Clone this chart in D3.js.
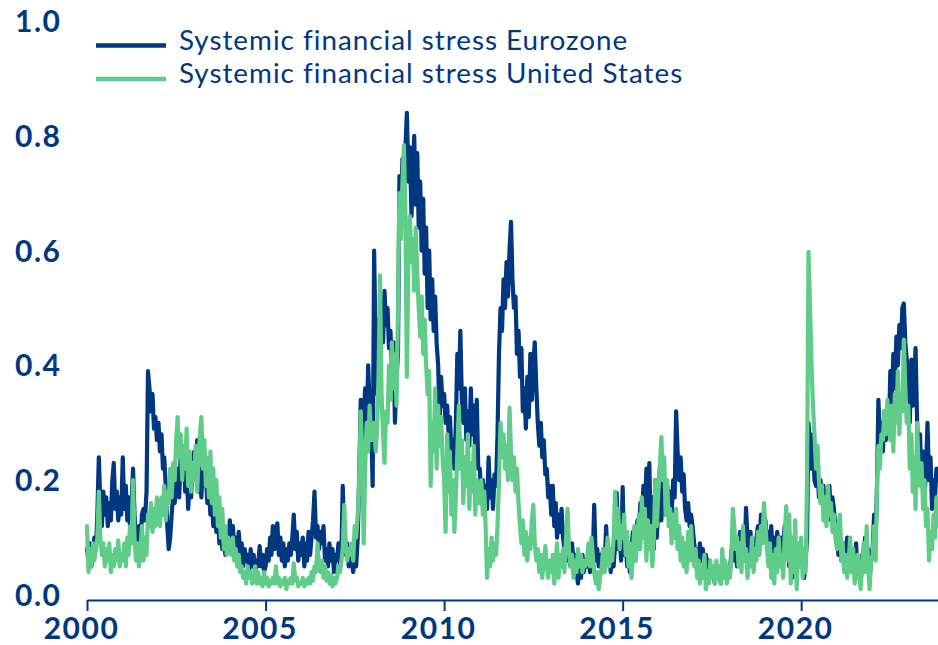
<!DOCTYPE html>
<html>
<head>
<meta charset="utf-8">
<script src="https://cdn.jsdelivr.net/npm/d3@7"></script>
<style>
  body { margin: 0; background: #fff; }
  svg { display: block; font-family: Lato, "Open Sans", sans-serif; }
</style>
</head>
<body>
<svg id="chart" width="938" height="645"></svg>
<script>
// Series labels, colours and axis ticks
const seriesNames = ["Systemic financial stress Eurozone", "Systemic financial stress United States"];
const seriesColors = ["#003781", "#5fcd89"];
const yTicks = [0, 0.2, 0.4, 0.6, 0.8, 1.0];
const xTickYears = [2000, 2005, 2010, 2015, 2020];
const firstYear = 2000;

// Composite indicator of systemic stress, two readings per month (1st and 16th), Jan 2000 onwards
const ezStress = [
  // 2000
  0.08, 0.06, 0.09, 0.05, 0.07, 0.10, 0.08, 0.14, 0.24, 0.16, 0.12, 0.18, 0.14, 0.17, 0.12, 0.16, 0.13, 0.20, 0.23, 0.15, 0.18, 0.13, 0.17, 0.14,
  // 2001
  0.24, 0.15, 0.19, 0.13, 0.17, 0.12, 0.16, 0.22, 0.14, 0.10, 0.08, 0.12, 0.09, 0.14, 0.15, 0.13, 0.18, 0.39, 0.36, 0.32, 0.35, 0.29, 0.31, 0.27,
  // 2002
  0.30, 0.25, 0.28, 0.22, 0.24, 0.19, 0.12, 0.08, 0.10, 0.14, 0.18, 0.16, 0.20, 0.22, 0.17, 0.24, 0.20, 0.26, 0.18, 0.22, 0.15, 0.20, 0.17, 0.23,
  // 2003
  0.25, 0.20, 0.27, 0.18, 0.22, 0.17, 0.24, 0.19, 0.21, 0.16, 0.19, 0.14, 0.17, 0.12, 0.15, 0.11, 0.14, 0.09, 0.12, 0.08, 0.10, 0.07, 0.11, 0.08,
  // 2004
  0.13, 0.09, 0.12, 0.08, 0.10, 0.06, 0.11, 0.07, 0.09, 0.05, 0.08, 0.06, 0.07, 0.04, 0.08, 0.05, 0.07, 0.04, 0.06, 0.05, 0.085, 0.05, 0.07, 0.04,
  // 2005
  0.05, 0.08, 0.06, 0.10, 0.07, 0.12, 0.08, 0.11, 0.125, 0.07, 0.10, 0.06, 0.09, 0.05, 0.08, 0.06, 0.09, 0.07, 0.10, 0.14, 0.08, 0.11, 0.06, 0.09,
  // 2006
  0.07, 0.10, 0.05, 0.09, 0.06, 0.11, 0.07, 0.10, 0.13, 0.18, 0.10, 0.12, 0.08, 0.11, 0.09, 0.12, 0.06, 0.08, 0.05, 0.09, 0.06, 0.08, 0.04, 0.07,
  // 2007
  0.06, 0.09, 0.05, 0.08, 0.19, 0.10, 0.07, 0.09, 0.05, 0.08, 0.06, 0.04, 0.07, 0.05, 0.10, 0.20, 0.34, 0.26, 0.30, 0.36, 0.28, 0.40, 0.33, 0.30,
  // 2008
  0.19, 0.60, 0.42, 0.35, 0.48, 0.40, 0.51, 0.44, 0.53, 0.47, 0.50, 0.43, 0.46, 0.40, 0.44, 0.30, 0.38, 0.42, 0.73, 0.66, 0.76, 0.70, 0.78, 0.84,
  // 2009
  0.72, 0.78, 0.66, 0.74, 0.80, 0.68, 0.77, 0.64, 0.72, 0.60, 0.69, 0.56, 0.64, 0.50, 0.60, 0.48, 0.55, 0.46, 0.52, 0.44, 0.40, 0.30, 0.38, 0.33,
  // 2010
  0.35, 0.30, 0.33, 0.28, 0.31, 0.25, 0.27, 0.22, 0.30, 0.42, 0.36, 0.46, 0.34, 0.30, 0.36, 0.27, 0.32, 0.26, 0.36, 0.28, 0.33, 0.24, 0.34, 0.22,
  // 2011
  0.22, 0.16, 0.20, 0.14, 0.19, 0.15, 0.24, 0.17, 0.20, 0.15, 0.21, 0.19, 0.28, 0.42, 0.50, 0.46, 0.55, 0.50, 0.58, 0.52, 0.60, 0.65, 0.55, 0.50,
  // 2012
  0.52, 0.42, 0.46, 0.38, 0.43, 0.32, 0.36, 0.29, 0.38, 0.31, 0.42, 0.34, 0.40, 0.44, 0.36, 0.30, 0.26, 0.30, 0.24, 0.27, 0.21, 0.22, 0.17, 0.19,
  // 2013
  0.14, 0.19, 0.12, 0.16, 0.10, 0.14, 0.11, 0.15, 0.10, 0.08, 0.09, 0.06, 0.08, 0.05, 0.09, 0.06, 0.07, 0.04, 0.02, 0.06, 0.03, 0.07, 0.04, 0.06,
  // 2014
  0.05, 0.07, 0.04, 0.08, 0.06, 0.157, 0.06, 0.08, 0.05, 0.07, 0.06, 0.08, 0.05, 0.12, 0.06, 0.08, 0.04, 0.07, 0.05, 0.09, 0.178, 0.08, 0.11, 0.06,
  // 2015
  0.188, 0.07, 0.10, 0.05, 0.09, 0.04, 0.08, 0.11, 0.06, 0.09, 0.13, 0.10, 0.16, 0.12, 0.19, 0.14, 0.22, 0.12, 0.23, 0.10, 0.17, 0.08, 0.20, 0.10,
  // 2016
  0.15, 0.22, 0.13, 0.24, 0.16, 0.14, 0.19, 0.15, 0.18, 0.14, 0.20, 0.17, 0.32, 0.25, 0.20, 0.24, 0.18, 0.21, 0.15, 0.13, 0.16, 0.12, 0.14, 0.12,
  // 2017
  0.09, 0.07, 0.08, 0.05, 0.09, 0.06, 0.08, 0.04, 0.07, 0.05, 0.06, 0.03, 0.05, 0.04, 0.02, 0.05, 0.03, 0.04, 0.02, 0.05, 0.03, 0.04, 0.03, 0.05,
  // 2018
  0.04, 0.07, 0.10, 0.06, 0.09, 0.05, 0.08, 0.11, 0.07, 0.09, 0.06, 0.152, 0.10, 0.07, 0.11, 0.06, 0.09, 0.07, 0.10, 0.12, 0.09, 0.14, 0.10, 0.12,
  // 2019
  0.13, 0.09, 0.11, 0.08, 0.12, 0.07, 0.10, 0.06, 0.11, 0.08, 0.10, 0.06, 0.09, 0.12, 0.07, 0.10, 0.05, 0.08, 0.03, 0.07, 0.04, 0.09, 0.05, 0.08,
  // 2020
  0.05, 0.08, 0.03, 0.06, 0.10, 0.30, 0.26, 0.22, 0.28, 0.20, 0.19, 0.22, 0.17, 0.20, 0.16, 0.19, 0.15, 0.18, 0.14, 0.19, 0.13, 0.17, 0.15, 0.12,
  // 2021
  0.10, 0.07, 0.11, 0.06, 0.09, 0.05, 0.08, 0.10, 0.06, 0.08, 0.04, 0.07, 0.05, 0.09, 0.03, 0.06, 0.02, 0.07, 0.04, 0.10, 0.05, 0.08, 0.03, 0.06,
  // 2022
  0.08, 0.14, 0.10, 0.20, 0.34, 0.28, 0.30, 0.25, 0.32, 0.27, 0.30, 0.28, 0.39, 0.33, 0.42, 0.36, 0.45, 0.40, 0.47, 0.43, 0.50, 0.508, 0.44, 0.41,
  // 2023
  0.38, 0.30, 0.41, 0.33, 0.36, 0.43, 0.30, 0.24, 0.28, 0.19, 0.25, 0.17, 0.22, 0.30, 0.20, 0.24, 0.15, 0.20, 0.17, 0.22, 0.20
];

const usStress = [
  // 2000
  0.12, 0.04, 0.08, 0.05, 0.09, 0.06, 0.08, 0.10, 0.18, 0.10, 0.07, 0.09, 0.05, 0.08, 0.06, 0.09, 0.04, 0.07, 0.05, 0.08, 0.06, 0.095, 0.05, 0.07,
  // 2001
  0.06, 0.09, 0.05, 0.10, 0.07, 0.12, 0.09, 0.20, 0.10, 0.06, 0.09, 0.05, 0.08, 0.12, 0.06, 0.10, 0.07, 0.14, 0.12, 0.16, 0.11, 0.15, 0.12, 0.17,
  // 2002
  0.15, 0.12, 0.17, 0.14, 0.19, 0.13, 0.18, 0.16, 0.22, 0.17, 0.23, 0.20, 0.27, 0.31, 0.24, 0.28, 0.20, 0.26, 0.22, 0.29, 0.19, 0.25, 0.18, 0.23,
  // 2003
  0.20, 0.26, 0.18, 0.24, 0.28, 0.31, 0.22, 0.27, 0.19, 0.24, 0.17, 0.25, 0.16, 0.22, 0.14, 0.20, 0.12, 0.17, 0.10, 0.15, 0.08, 0.12, 0.07, 0.10,
  // 2004
  0.09, 0.07, 0.10, 0.06, 0.08, 0.05, 0.07, 0.04, 0.05, 0.03, 0.04, 0.02, 0.05, 0.03, 0.04, 0.02, 0.03, 0.05, 0.02, 0.04, 0.02, 0.03, 0.015, 0.04,
  // 2005
  0.02, 0.03, 0.015, 0.025, 0.02, 0.03, 0.02, 0.05, 0.02, 0.03, 0.015, 0.025, 0.02, 0.03, 0.01, 0.025, 0.02, 0.03, 0.02, 0.055, 0.025, 0.03, 0.015, 0.02,
  // 2006
  0.02, 0.03, 0.015, 0.025, 0.02, 0.03, 0.02, 0.04, 0.025, 0.05, 0.04, 0.09, 0.05, 0.04, 0.06, 0.03, 0.05, 0.025, 0.04, 0.02, 0.035, 0.015, 0.03, 0.02,
  // 2007
  0.03, 0.05, 0.04, 0.06, 0.08, 0.157, 0.09, 0.06, 0.08, 0.07, 0.09, 0.06, 0.12, 0.10, 0.14, 0.20, 0.32, 0.25, 0.09, 0.22, 0.30, 0.25, 0.33, 0.27,
  // 2008
  0.27, 0.30, 0.25, 0.29, 0.38, 0.557, 0.35, 0.28, 0.23, 0.32, 0.30, 0.40, 0.34, 0.44, 0.36, 0.42, 0.33, 0.50, 0.70, 0.62, 0.72, 0.784, 0.66, 0.38,
  // 2009
  0.60, 0.66, 0.58, 0.62, 0.53, 0.64, 0.56, 0.50, 0.45, 0.52, 0.42, 0.48, 0.40, 0.35, 0.39, 0.19, 0.30, 0.25, 0.36, 0.22, 0.33, 0.26, 0.31, 0.24,
  // 2010
  0.20, 0.11, 0.28, 0.18, 0.25, 0.14, 0.20, 0.11, 0.17, 0.25, 0.33, 0.22, 0.27, 0.16, 0.24, 0.19, 0.28, 0.15, 0.23, 0.18, 0.26, 0.14, 0.20, 0.16,
  // 2011
  0.16, 0.20, 0.14, 0.18, 0.12, 0.03, 0.08, 0.05, 0.10, 0.06, 0.09, 0.07, 0.12, 0.20, 0.30, 0.24, 0.28, 0.22, 0.26, 0.20, 0.326, 0.25, 0.20, 0.24,
  // 2012
  0.18, 0.22, 0.16, 0.12, 0.09, 0.13, 0.07, 0.11, 0.06, 0.10, 0.08, 0.13, 0.157, 0.09, 0.06, 0.08, 0.04, 0.07, 0.03, 0.06, 0.085, 0.05, 0.03, 0.06,
  // 2013
  0.04, 0.07, 0.02, 0.06, 0.09, 0.03, 0.07, 0.05, 0.08, 0.04, 0.10, 0.15, 0.08, 0.05, 0.07, 0.03, 0.06, 0.04, 0.08, 0.05, 0.07, 0.04, 0.06, 0.05,
  // 2014
  0.06, 0.09, 0.05, 0.10, 0.07, 0.04, 0.02, 0.04, 0.01, 0.03, 0.05, 0.08, 0.04, 0.07, 0.10, 0.05, 0.08, 0.06, 0.10, 0.18, 0.10, 0.15, 0.08, 0.12,
  // 2015
  0.10, 0.14, 0.07, 0.11, 0.05, 0.09, 0.03, 0.07, 0.12, 0.06, 0.10, 0.14, 0.08, 0.17, 0.10, 0.15, 0.06, 0.13, 0.08, 0.12, 0.05, 0.10, 0.20, 0.12,
  // 2016
  0.18, 0.22, 0.275, 0.20, 0.24, 0.14, 0.20, 0.12, 0.15, 0.09, 0.14, 0.10, 0.15, 0.08, 0.12, 0.06, 0.10, 0.05, 0.09, 0.04, 0.11, 0.06, 0.12, 0.07,
  // 2017
  0.05, 0.08, 0.03, 0.06, 0.02, 0.05, 0.03, 0.07, 0.01, 0.04, 0.02, 0.06, 0.03, 0.05, 0.02, 0.06, 0.03, 0.05, 0.02, 0.08, 0.03, 0.06, 0.02, 0.05,
  // 2018
  0.03, 0.06, 0.15, 0.12, 0.08, 0.10, 0.05, 0.09, 0.04, 0.12, 0.06, 0.08, 0.03, 0.07, 0.05, 0.10, 0.04, 0.08, 0.06, 0.11, 0.07, 0.12, 0.09, 0.16,
  // 2019
  0.12, 0.08, 0.05, 0.09, 0.03, 0.07, 0.02, 0.08, 0.04, 0.10, 0.05, 0.07, 0.03, 0.10, 0.155, 0.06, 0.14, 0.02, 0.10, 0.04, 0.13, 0.01, 0.09, 0.05,
  // 2020
  0.10, 0.03, 0.08, 0.04, 0.20, 0.598, 0.50, 0.40, 0.33, 0.28, 0.22, 0.26, 0.20, 0.16, 0.19, 0.13, 0.17, 0.12, 0.19, 0.14, 0.16, 0.11, 0.14, 0.10,
  // 2021
  0.08, 0.12, 0.14, 0.06, 0.09, 0.04, 0.07, 0.03, 0.06, 0.10, 0.04, 0.08, 0.02, 0.05, 0.07, 0.03, 0.01, 0.06, 0.09, 0.04, 0.12, 0.05, 0.01, 0.06,
  // 2022
  0.07, 0.12, 0.06, 0.20, 0.26, 0.22, 0.28, 0.27, 0.32, 0.28, 0.34, 0.30, 0.27, 0.33, 0.25, 0.35, 0.30, 0.39, 0.28, 0.35, 0.32, 0.445, 0.36, 0.30,
  // 2023
  0.33, 0.22, 0.28, 0.18, 0.24, 0.15, 0.30, 0.22, 0.19, 0.23, 0.15, 0.20, 0.12, 0.15, 0.06, 0.11, 0.08, 0.14, 0.10, 0.17, 0.12
];

// reading i falls on the 1st (even i) or 16th (odd i) of month floor(i/2)
const readingDate = i => new Date(firstYear, Math.floor(i / 2), i % 2 ? 16 : 1);

const svg = d3.select("#chart");

const x = d3.scaleTime()
  .domain([new Date(2000, 0, 1), new Date(2024, 0, 1)])
  .range([87, 944]);
const y = d3.scaleLinear().domain([0, 1]).range([595, 21]);

const ink = "#003781";

// value axis labels (no axis line)
svg.append("g").selectAll("text")
  .data(yTicks)
  .join("text")
  .attr("x", 15)
  .attr("y", d => y(d) + 11)
  .attr("fill", ink)
  .attr("font-size", 30)
  .attr("font-weight", 700)
  .attr("letter-spacing", 1.5)
  .text(d => d3.format(".1f")(d));

// series lines
const line = d3.line()
  .x((d, i) => x(readingDate(i)))
  .y(d => y(d))
  .curve(d3.curveLinear);

const plot = svg.append("g");
[ezStress, usStress].forEach((series, k) => {
  plot.append("path")
    .datum(series)
    .attr("fill", "none")
    .attr("stroke", seriesColors[k])
    .attr("stroke-width", 4.2)
    .attr("stroke-linejoin", "round")
    .attr("stroke-linecap", "round")
    .attr("d", line);
});

// time axis
const xAxis = d3.axisBottom(x)
  .tickValues(xTickYears.map(yr => new Date(yr, 0, 1)))
  .tickFormat(d3.timeFormat("%Y"))
  .tickSize(11)
  .tickSizeOuter(0)
  .tickPadding(0);

const gx = svg.append("g")
  .attr("transform", "translate(0,600)")
  .call(xAxis);
gx.select(".domain").attr("stroke", ink).attr("stroke-width", 2);
gx.selectAll(".tick line").attr("stroke", ink).attr("stroke-width", 2);
gx.selectAll(".tick text")
  .attr("x", -6)
  .attr("y", 39)
  .attr("dy", null)
  .attr("fill", ink)
  .attr("font-family", "Lato, 'Open Sans', sans-serif")
  .attr("font-size", 30)
  .attr("font-weight", 700)
  .attr("letter-spacing", 1.5);

// legend
const legend = svg.append("g");
seriesNames.forEach((name, k) => {
  const ly = [45.5, 79][k];
  legend.append("line")
    .attr("x1", 96).attr("x2", 166)
    .attr("y1", ly).attr("y2", ly)
    .attr("stroke", seriesColors[k])
    .attr("stroke-width", 4.5);
  legend.append("text")
    .attr("x", 179)
    .attr("y", ly + 4)
    .attr("fill", ink)
    .attr("font-size", 27.8)
    .attr("font-weight", 400)
    .attr("letter-spacing", 1.0)
    .text(name);
});
</script>
</body>
</html>
